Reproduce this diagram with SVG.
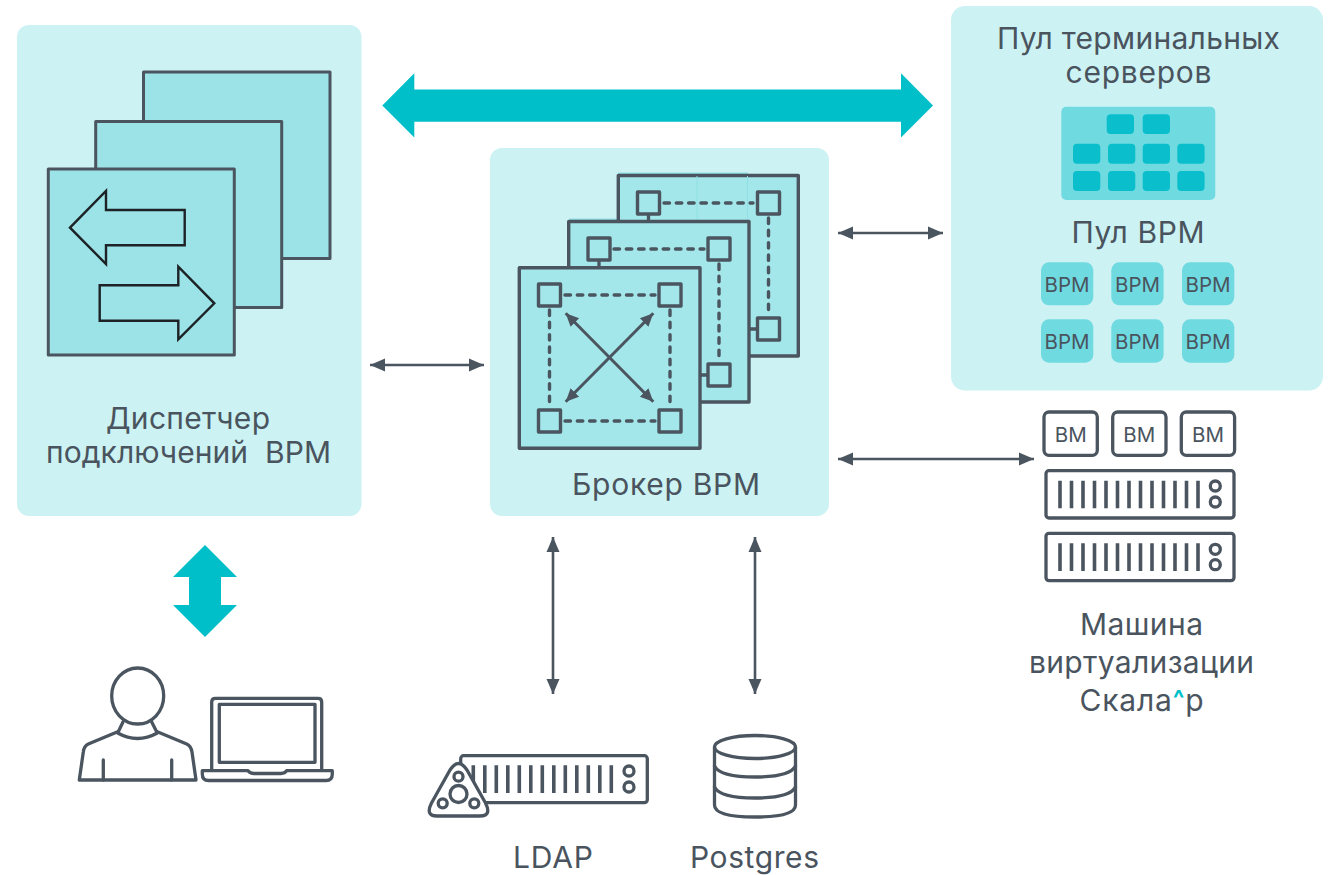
<svg xmlns="http://www.w3.org/2000/svg" width="1335" height="875" viewBox="0 0 1335 875">
<style>
.panel{fill:#ccf2f3}
.t{font-family:Inter,"Noto Sans",sans-serif;font-size:30px;fill:#4a545e;text-anchor:middle}
.tile{font-family:Inter,"Noto Sans",sans-serif;font-size:20.5px;fill:#4a545e;text-anchor:middle}
.sheetL{fill:#9be3e6;stroke:#4a5560;stroke-width:3;stroke-linejoin:round}
.sheetB{fill:#a3e7ea;stroke:#4a5560;stroke-width:3.4;stroke-linejoin:round}
.sq{fill:#a3e7ea;stroke:#4a5560;stroke-width:3.4;stroke-linejoin:round}
.dash{fill:none;stroke:#4a5560;stroke-width:3.4;stroke-dasharray:5.5 6.8;stroke-linecap:round}
.ln{fill:none;stroke:#4a5560;stroke-width:3.3;stroke-linecap:round;stroke-linejoin:round}
.ol{fill:#fff;stroke:#4a5560;stroke-width:3.3;stroke-linejoin:round}
.bar{stroke:#4a5560;stroke-width:3.6;fill:none}
.arr{fill:none;stroke:#4a5560;stroke-width:2.6;marker-start:url(#ah);marker-end:url(#ah)}
.dg{fill:none;stroke:#4a5560;stroke-width:3;marker-start:url(#ah2);marker-end:url(#ah2)}
.black{fill:none;stroke:#1c2226;stroke-width:2.4;stroke-linejoin:miter}
.teal{fill:#00bfc8}
.mid{fill:#6fdbe1}
.cell{fill:#0abfcb}
</style>
<defs>
<marker id="ah" markerUnits="userSpaceOnUse" markerWidth="16" markerHeight="16" refX="15" refY="8" orient="auto-start-reverse"><path d="M0 1.5L15 8L0 14.5Z" fill="#4a5560"/></marker>
<marker id="ah2" markerUnits="userSpaceOnUse" markerWidth="14" markerHeight="14" refX="13" refY="7" orient="auto-start-reverse"><path d="M0 1L13 7L0 13Z" fill="#4a5560"/></marker>
<g id="srv"><path class="bar" d="M1060 0v27.6M1071.500 0v27.6M1083 0v27.6M1094.500 0v27.6M1106 0v27.6M1117.500 0v27.6M1129 0v27.6M1140.500 0v27.6M1152 0v27.6M1163.500 0v27.6M1175 0v27.6M1186.500 0v27.6M1198 0v27.6"/></g>
</defs>
<rect width="1335" height="875" fill="#fff"/>

<g id="dispatcher">
<rect class="panel" x="17" y="25" width="344.500" height="491" rx="12"/>
<rect class="sheetL" x="143.500" y="72" width="186.500" height="186.500"/>
<rect class="sheetL" x="95.700" y="121.500" width="186" height="186"/>
<rect class="sheetL" x="48.300" y="169" width="186" height="186"/>
<polygon class="black" points="70,227.700 106,191 106,210 184.700,210 184.700,245.300 106,245.300 106,264"/>
<polygon class="black" points="99.700,285.300 178.300,285.300 178.300,266.700 214.300,303.300 178.300,339.300 178.300,320.700 99.700,320.700"/>
<text class="t" x="188" y="428.500" textLength="164">Диспетчер</text>
<text class="t" x="188.500" y="463" textLength="285" xml:space="preserve">подключений  ВРМ</text>
</g>

<g id="broker">
<rect class="panel" x="490" y="148" width="339" height="368" rx="12"/>
<path d="M618 172.500h130v3.500h-130zM569 218.500h128v3.500h-128z" fill="#8fe0e4"/>
<rect class="sheetB" x="618.300" y="175.500" width="180" height="180.500"/>
<path d="M697 176v44M747.500 176v44" stroke="#8fe0e4" stroke-width="1"/>
<path class="dash" d="M664 203H753M768.500 218V314"/>
<path class="ln" d="M648.500 214V221M749 329H757"/>
<rect class="sq" x="637.500" y="192" width="22" height="22"/>
<rect class="sq" x="757.500" y="192" width="22" height="22"/>
<rect class="sq" x="757.500" y="318" width="22" height="22"/>
<rect class="sheetB" x="568.700" y="221.500" width="180.300" height="180.500"/>
<path class="dash" d="M614 249H704M719 264V360"/>
<path class="ln" d="M599 260V267M700 375H708"/>
<rect class="sq" x="588" y="238" width="22" height="22"/>
<rect class="sq" x="708" y="238" width="22" height="22"/>
<rect class="sq" x="708" y="364" width="22" height="22"/>
<rect class="sheetB" x="519.300" y="267.700" width="180.700" height="180.600"/>
<path class="dash" d="M565 295H655M549.500 310V406M670 310V406M565 421H655"/>
<rect class="sq" x="538.500" y="284" width="22" height="22"/>
<rect class="sq" x="659" y="284" width="22" height="22"/>
<rect class="sq" x="538.500" y="410" width="22" height="22"/>
<rect class="sq" x="659" y="410" width="22" height="22"/>
<path class="dg" d="M565.700 313.300L653.300 401.700"/>
<path class="dg" d="M653.300 313.300L565.700 401.700"/>
<text class="t" x="666" y="495" textLength="188">Брокер ВРМ</text>
</g>

<g id="terminal-pool">
<rect class="panel" x="951" y="6" width="372" height="384.500" rx="14"/>
<text class="t" x="1138.500" y="49" textLength="283">Пул терминальных</text>
<text class="t" x="1138.500" y="83" textLength="146">серверов</text>
<rect class="mid" x="1061.300" y="106.700" width="154" height="93.300" rx="5"/>
<rect class="cell" x="1106.700" y="114.300" width="27.300" height="19.700" rx="4"/>
<rect class="cell" x="1142.700" y="114.300" width="27.300" height="19.700" rx="4"/>
<rect class="cell" x="1073" y="143.700" width="27.300" height="20" rx="4"/>
<rect class="cell" x="1108" y="143.700" width="27.300" height="20" rx="4"/>
<rect class="cell" x="1142.700" y="143.700" width="27.300" height="20" rx="4"/>
<rect class="cell" x="1177.300" y="143.700" width="27.300" height="20" rx="4"/>
<rect class="cell" x="1073" y="171" width="27.300" height="20" rx="4"/>
<rect class="cell" x="1108" y="171" width="27.300" height="20" rx="4"/>
<rect class="cell" x="1142.700" y="171" width="27.300" height="20" rx="4"/>
<rect class="cell" x="1177.300" y="171" width="27.300" height="20" rx="4"/>
<text class="t" x="1138" y="243" textLength="133">Пул ВРМ</text>
<rect class="mid" x="1041" y="262.300" width="52.300" height="43" rx="8"/>
<rect class="mid" x="1111.300" y="262.300" width="52.300" height="43" rx="8"/>
<rect class="mid" x="1182" y="262.300" width="52.300" height="43" rx="8"/>
<rect class="mid" x="1041" y="319.300" width="52.300" height="43.400" rx="8"/>
<rect class="mid" x="1111.300" y="319.300" width="52.300" height="43.400" rx="8"/>
<rect class="mid" x="1182" y="319.300" width="52.300" height="43.400" rx="8"/>
<text class="tile" x="1067" y="292">ВРМ</text>
<text class="tile" x="1137.500" y="292">ВРМ</text>
<text class="tile" x="1208" y="292">ВРМ</text>
<text class="tile" x="1067" y="349">ВРМ</text>
<text class="tile" x="1137.500" y="349">ВРМ</text>
<text class="tile" x="1208" y="349">ВРМ</text>
</g>

<g id="virtualization">
<rect class="ol" x="1044" y="412" width="53.300" height="43.300" rx="5"/>
<rect class="ol" x="1112.700" y="412" width="53.300" height="43.300" rx="5"/>
<rect class="ol" x="1181.300" y="412" width="53.300" height="43.300" rx="5"/>
<text class="tile" x="1070.700" y="441.500">ВМ</text>
<text class="tile" x="1139.300" y="441.500">ВМ</text>
<text class="tile" x="1208" y="441.500">ВМ</text>
<rect class="ol" x="1046" y="470.700" width="188" height="47.300" rx="3"/>
<use href="#srv" y="480.700"/>
<circle class="ln" cx="1215.300" cy="486" r="5"/>
<circle class="ln" cx="1215.300" cy="502" r="5"/>
<rect class="ol" x="1046" y="533.300" width="188" height="47.300" rx="3"/>
<use href="#srv" y="543.300"/>
<circle class="ln" cx="1215.300" cy="549.300" r="5"/>
<circle class="ln" cx="1215.300" cy="564.700" r="5"/>
<text class="t" x="1141.500" y="635" textLength="123">Машина</text>
<text class="t" x="1141.500" y="673" textLength="225">виртуализации</text>
<text class="t" x="1141.500" y="711" textLength="124">Скала<tspan fill="#00bfc8" font-weight="700" font-size="24" dy="-4">^</tspan><tspan dy="4">р</tspan></text>
</g>

<g id="user">
<ellipse class="ln" cx="137.700" cy="696" rx="26" ry="28"/>
<path class="ln" d="M123 722L117.700 733Q137.500 744 157.300 733L151.700 722"/>
<path class="ln" d="M117.700 731.700L88.300 744Q84 746 83.300 752L79.300 780H196L192 752Q191 746 186.700 744L157.300 731.700"/>
<path class="ln" d="M103.300 760V780M171.700 760V780"/>
<path class="ln" d="M211.700 770V702Q211.700 698.300 215.500 698.300H318Q321.700 698.300 321.700 702V770"/>
<rect class="ln" x="219.300" y="704.300" width="95.700" height="58"/>
<path class="ln" d="M202.300 770.700H248Q250 773.500 254 773.500H281Q285 773.500 286.700 770.700H332.300V774Q332.300 780.500 326 780.500H208.500Q202.300 780.500 202.300 774Z"/>
</g>

<g id="ldap">
<rect class="ol" x="460.700" y="755.700" width="186.600" height="47" rx="3"/>
<use href="#srv" x="-586.700" y="765.300"/>
<circle class="ln" cx="629" cy="771" r="5"/>
<circle class="ln" cx="629" cy="787" r="5"/>
<path class="ol" d="M450 770Q458.500 757 467 770L485.500 803Q492 816 480 816H437Q425 816 431.500 803Z"/>
<circle class="ln" cx="458.500" cy="794" r="8.500"/>
<circle class="ln" cx="458.500" cy="776.700" r="4.500"/>
<circle class="ln" cx="442.700" cy="803.300" r="4.500"/>
<circle class="ln" cx="474.300" cy="803.300" r="4.500"/>
<text class="t" x="553" y="868" textLength="80">LDAP</text>
</g>

<g id="postgres">
<ellipse class="ln" cx="755" cy="747" rx="40.500" ry="11.500"/>
<path class="ln" d="M714.500 747V805Q714.500 817 755 817Q795.500 817 795.500 805V747"/>
<path class="ln" d="M714.500 766Q720 777 755 777Q790 777 795.500 766M714.500 787Q720 798 755 798Q790 798 795.500 787"/>
<text class="t" x="754.500" y="868" textLength="129">Postgres</text>
</g>

<g id="connectors">
<polygon class="teal" points="382.300,105.500 414.300,73.300 414.300,89.500 901,89.500 901,73.300 933,105.500 901,137.500 901,121.700 414.300,121.700 414.300,137.500"/>
<polygon class="teal" points="205,545 237,577 221,577 221,605 237,605 205,637 173,605 189,605 189,577 173,577"/>
<path class="arr" d="M370 365H484"/>
<path class="arr" d="M838 233H943"/>
<path class="arr" d="M838 459H1034"/>
<path class="arr" d="M553 537V694"/>
<path class="arr" d="M755 537V694"/>
</g>
</svg>
